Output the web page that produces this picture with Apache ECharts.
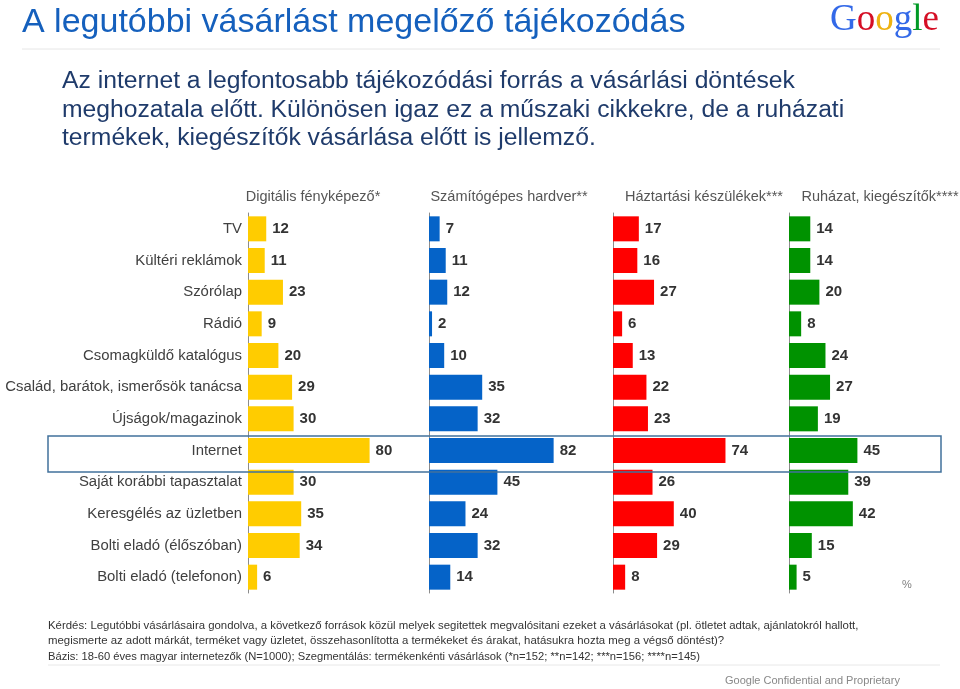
<!DOCTYPE html>
<html><head><meta charset="utf-8">
<script src="https://cdn.jsdelivr.net/npm/echarts@6/dist/echarts.min.js"></script>
<style>html,body{margin:0;padding:0;background:#fff}#c{width:960px;height:689px}</style>
</head><body><div id="c"></div>
<script>
const categories = ["TV","Kültéri reklámok","Szórólap","Rádió","Csomagküldő katalógus","Család, barátok, ismerősök tanácsa","Újságok/magazinok","Internet","Saját korábbi tapasztalat","Keresgélés az üzletben","Bolti eladó (élőszóban)","Bolti eladó (telefonon)"];
const panelNames = ["Digitális fényképező*","Számítógépes hardver**","Háztartási készülékek***","Ruházat, kiegészítők****"];
const camera = [12,11,23,9,20,29,30,80,30,35,34,6];
const hardware = [7,11,12,2,10,35,32,82,45,24,32,14];
const appliances = [17,16,27,6,13,22,23,74,26,40,29,8];
const clothing = [14,14,20,8,24,27,19,45,39,42,15,5];
const seriesValues = [camera, hardware, appliances, clothing];
const colors = ["#FFCC00","#0563C8","#FF0000","#009200"];
const panelLeft = [248,429,613,789];
const headerX = [313,509,704,880];

const chart = echarts.init(document.getElementById('c'));
const grids=[],xAxes=[],yAxes=[],series=[];
const gTop=213, gH=380;
for(let i=0;i<4;i++){
  grids.push({left:panelLeft[i],top:gTop,width:152,height:gH});
  xAxes.push({type:'value',gridIndex:i,min:0,max:100,show:false});
  yAxes.push({type:'category',gridIndex:i,data:categories,inverse:true,
    axisLine:{show:true,lineStyle:{color:'#8c8c8c',width:1}},
    axisTick:{show:false},
    axisLabel:{show:i===0,color:'#404040',fontSize:14.9,fontFamily:'Liberation Sans, Arial, sans-serif',margin:6}});
  series.push({type:'bar',xAxisIndex:i,yAxisIndex:i,data:seriesValues[i],barWidth:25,
    itemStyle:{color:colors[i]},
    label:{show:true,position:'right',distance:6,color:'#333',fontWeight:'bold',fontSize:15,
      fontFamily:'Liberation Sans Narrow, Arial Narrow, Liberation Sans, sans-serif'}});
}
const serif='37px Liberation Serif, Times New Roman, serif';
const graphics=[
  {type:'text',x:22,y:23,style:{text:'A legutóbbi vásárlást megelőző tájékozódás',fill:'#1560BD',font:'34px Liberation Sans, Arial, sans-serif',verticalAlign:'middle'}},
  {type:'text',x:830,y:20,style:{verticalAlign:'middle',rich:{
      b:{fill:'#3369E8',font:serif},
      r:{fill:'#D50F25',font:serif},
      y:{fill:'#EEB211',font:serif},
      g:{fill:'#009925',font:serif}},
    text:'{b|G}{r|o}{y|o}{b|g}{g|l}{r|e}'}},
  {type:'line',shape:{x1:22,y1:49,x2:940,y2:49},style:{stroke:'#e6e6e6',lineWidth:1}},
  {type:'text',x:62,y:110,style:{text:'Az internet a legfontosabb tájékozódási forrás a vásárlási döntések\nmeghozatala előtt. Különösen igaz ez a műszaki cikkekre, de a ruházati\ntermékek, kiegészítők vásárlása előtt is jellemző.',fill:'#1F3B6B',font:'24.7px Liberation Sans, Arial, sans-serif',lineHeight:28.5,verticalAlign:'middle'}},
  {type:'rect',shape:{x:48,y:436,width:893,height:36},style:{fill:'none',stroke:'#41719C',lineWidth:1.5},z:10},
  {type:'text',left:902,top:579,style:{text:'%',fill:'#808080',font:'11px Liberation Sans, Arial, sans-serif'}},
  {type:'text',x:48,y:633.5,style:{text:'Kérdés: Legutóbbi vásárlásaira gondolva, a következő források közül melyek segitettek megvalósitani ezeket a vásárlásokat (pl. ötletet adtak, ajánlatokról hallott,\nmegismerte az adott márkát, terméket vagy üzletet, összehasonlította a termékeket és árakat, hatásukra hozta meg a végső döntést)?',fill:'#333',font:'11.4px Liberation Sans, Arial, sans-serif',lineHeight:15.5,verticalAlign:'middle'}},
  {type:'text',x:48,y:657,style:{text:'Bázis: 18-60 éves magyar internetezők (N=1000); Szegmentálás: termékenkénti vásárlások (*n=152; **n=142; ***n=156; ****n=145)',fill:'#333',font:'11.2px Liberation Sans, Arial, sans-serif',verticalAlign:'middle'}},
  {type:'line',shape:{x1:48,y1:665,x2:940,y2:665},style:{stroke:'#e8e8e8',lineWidth:1}},
  {type:'text',x:725,y:681,style:{text:'Google Confidential and Proprietary',fill:'#888',font:'11px Liberation Sans, Arial, sans-serif',verticalAlign:'middle'}}
];
for(let i=0;i<4;i++){
  graphics.push({type:'text',x:headerX[i],y:197,style:{text:panelNames[i],fill:'#555',font:'14.5px Liberation Sans, Arial, sans-serif',align:'center',verticalAlign:'middle'}});
}
chart.setOption({animation:false,grid:grids,xAxis:xAxes,yAxis:yAxes,series:series,graphic:graphics});
</script></body></html>
